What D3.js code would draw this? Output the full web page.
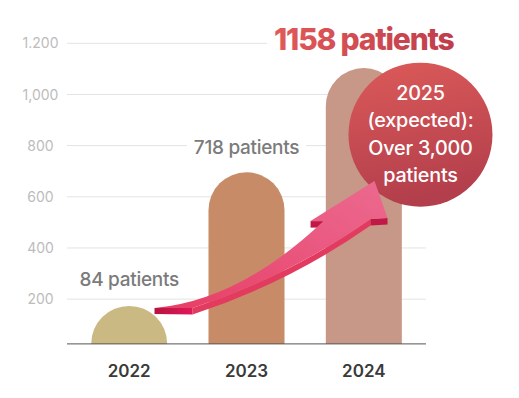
<!DOCTYPE html>
<html>
<head>
<meta charset="utf-8">
<script src="https://cdn.jsdelivr.net/npm/d3@7"></script>
<style>
  body { margin: 0; background: #fff; }
  svg { display: block; font-family: Inter, "Noto Sans", sans-serif; }
</style>
</head>
<body>
<div id="chart"></div>
<script>
// data
const years = ["2022", "2023", "2024"];
const barValues = [169, 696, 1103];          // bar heights on the axis
const barLabels = ["84 patients", "718 patients", "1158 patients"];
const barColors = ["#cbb984", "#c78c67", "#c79787"];
const tickValues = [200, 400, 600, 800, 1000, 1200];
const tickLabels = ["200", "400", "600", "800", "1,000", "1.200"];
const baseValue = 25;
const calloutLines = ["2025", "(expected):", "Over 3,000", "patients"];

// arrow outline in (category index, value) space
const arrowUpper = [[0.216, 165], [0.949, 197], [1.657, 505]];
const arrowHead = [[1.546, 505], [2.091, 662], [2.202, 517], [2.057, 513]];
const arrowLower = [[2.057, 513], [1.366, 290], [0.540, 165]];
const calloutCenter = [2.483, 843];

const W = 519, H = 398;

const svg = d3
  .select("#chart")
  .append("svg")
  .attr("width", W)
  .attr("height", H);

const x = d3.scaleBand().domain(years).range([67, 426]).paddingInner(0.352).paddingOuter(0.206);
const y = d3.scaleLinear().domain([0, 1200]).range([350.3, 43.3]);
const xi = d3
  .scaleLinear()
  .domain([0, 2])
  .range([x(years[0]) + x.bandwidth() / 2, x(years[2]) + x.bandwidth() / 2]);

const defs = svg.append("defs");

const gTitle = defs.append("linearGradient").attr("id", "gTitle").attr("x1", 0).attr("x2", 1).attr("y1", 0).attr("y2", 0);
gTitle.append("stop").attr("offset", 0).attr("stop-color", "#e15a59");
gTitle.append("stop").attr("offset", 1).attr("stop-color", "#bf3d4b");

const gCircle = defs.append("linearGradient").attr("id", "gCircle").attr("x1", 0).attr("x2", 0.2).attr("y1", 0).attr("y2", 1);
gCircle.append("stop").attr("offset", 0).attr("stop-color", "#dc5a59");
gCircle.append("stop").attr("offset", 1).attr("stop-color", "#b33f4c");

const gTop = defs.append("linearGradient").attr("id", "gTop").attr("x1", 0).attr("x2", 1).attr("y1", 1).attr("y2", 0);
gTop.append("stop").attr("offset", 0).attr("stop-color", "#e73d63");
gTop.append("stop").attr("offset", 0.6).attr("stop-color", "#ea5981");
gTop.append("stop").attr("offset", 1).attr("stop-color", "#ec6a8e");

const gCap = defs.append("linearGradient").attr("id", "gCap").attr("x1", 0).attr("x2", 1);
gCap.append("stop").attr("offset", 0).attr("stop-color", "#b8123f");
gCap.append("stop").attr("offset", 1).attr("stop-color", "#e0195a");

// gridlines
svg
  .append("g")
  .selectAll("line")
  .data(tickValues)
  .join("line")
  .attr("x1", x.range()[0])
  .attr("x2", x.range()[1])
  .attr("y1", (d) => y(d))
  .attr("y2", (d) => y(d))
  .attr("stroke", "#e3e3e3")
  .attr("stroke-width", 1);

// y tick labels
svg
  .append("g")
  .selectAll("text")
  .data(tickValues)
  .join("text")
  .attr("x", 40.5)
  .attr("y", (d) => y(d))
  .attr("dy", "0.36em")
  .attr("text-anchor", "middle")
  .attr("font-size", 14)
  .attr("fill", "#bcbcbc")
  .text((d, i) => tickLabels[i]);

// bars with round tops
const yBase = y(baseValue);
function barPath(i) {
  const x0 = x(years[i]), w = x.bandwidth(), r = w / 2;
  const top = Math.min(y(barValues[i]), yBase - r);
  return `M${x0},${yBase}V${top + r}A${r},${r} 0 0 1 ${x0 + w},${top + r}V${yBase}Z`;
}
svg
  .append("g")
  .selectAll("path")
  .data(years)
  .join("path")
  .attr("d", (d, i) => barPath(i))
  .attr("fill", (d, i) => barColors[i]);

// baseline
svg
  .append("line")
  .attr("x1", x.range()[0])
  .attr("x2", x.range()[1])
  .attr("y1", yBase)
  .attr("y2", yBase)
  .attr("stroke", "#555")
  .attr("stroke-width", 1);

// value labels with white backing
const labels = svg.append("g");
years.forEach((yr, i) => {
  const cx = x(yr) + x.bandwidth() / 2;
  const big = i === 2;
  const t = labels
    .append("text")
    .attr("x", cx)
    .attr("y", y(barValues[i]) - (big ? 18 : i === 0 ? 21.5 : 18))
    .attr("text-anchor", "middle")
    .attr("font-size", big ? 30 : 19)
    .attr("font-weight", big ? 800 : 500)
    .attr("letter-spacing", big ? -1.2 : -0.3)
    .attr("fill", big ? "url(#gTitle)" : "#7b7b7b")
    .text(barLabels[i]);
  const bb = t.node().getBBox();
  labels
    .insert("rect", "text")
    .attr("x", bb.x - 7)
    .attr("y", bb.y)
    .attr("width", bb.width + 14)
    .attr("height", bb.height)
    .attr("fill", "#fff");
});

// x axis labels
svg
  .append("g")
  .selectAll("text")
  .data(years)
  .join("text")
  .attr("x", (d) => x(d) + x.bandwidth() / 2)
  .attr("y", 377.3)
  .attr("text-anchor", "middle")
  .attr("font-size", 17)
  .attr("font-weight", 600)
  .attr("fill", "#3a3a3a")
  .text((d) => d);

// callout circle
const ccx = xi(calloutCenter[0]), ccy = y(calloutCenter[1]);
svg.append("circle").attr("cx", ccx).attr("cy", ccy).attr("r", 72).attr("fill", "url(#gCircle)");
svg
  .append("g")
  .selectAll("text")
  .data(calloutLines)
  .join("text")
  .attr("x", ccx)
  .attr("y", (d, i) => ccy - 34.7 + i * 27.3)
  .attr("text-anchor", "middle")
  .attr("font-size", 19.8)
  .attr("font-weight", 500)
  .attr("letter-spacing", -0.2)
  .attr("fill", "#fff")
  .text((d) => d);

// curved 3D arrow
const P = (p) => [xi(p[0]), y(p[1])];
const depth = 6.5;
const u = arrowUpper.map(P), h = arrowHead.map(P), l = arrowLower.map(P);
const arrow = svg.append("g");

// side face below the lower edge
arrow
  .append("path")
  .attr(
    "d",
    `M${l[2][0]},${l[2][1]}Q${l[1][0]},${l[1][1]} ${l[0][0]},${l[0][1]}` +
      `L${l[0][0]},${l[0][1] + depth}Q${l[1][0]},${l[1][1] + depth} ${l[2][0]},${l[2][1] + depth}Z`
  )
  .attr("fill", "#e33a5f");

// tail end cap
arrow
  .append("path")
  .attr("d", `M${u[0][0]},${u[0][1]}L${l[2][0]},${l[2][1]}L${l[2][0]},${l[2][1] + depth}L${u[0][0]},${u[0][1] + depth - 0.5}Z`)
  .attr("fill", "url(#gCap)");

// barb caps
arrow
  .append("path")
  .attr("d", `M${h[0][0]},${h[0][1]}L${u[2][0]},${u[2][1]}L${u[2][0]},${u[2][1] + depth}L${h[0][0]},${h[0][1] + depth}Z`)
  .attr("fill", "#c01847");
arrow
  .append("path")
  .attr("d", `M${h[3][0]},${h[3][1]}L${h[2][0]},${h[2][1]}L${h[2][0]},${h[2][1] + depth}L${h[3][0]},${h[3][1] + depth}Z`)
  .attr("fill", "#c01847");

// top face
arrow
  .append("path")
  .attr(
    "d",
    `M${u[0][0]},${u[0][1]}Q${u[1][0]},${u[1][1]} ${u[2][0]},${u[2][1]}` +
      `L${h[0][0]},${h[0][1]}L${h[1][0]},${h[1][1]}L${h[2][0]},${h[2][1]}L${h[3][0]},${h[3][1]}` +
      `Q${l[1][0]},${l[1][1]} ${l[2][0]},${l[2][1]}Z`
  )
  .attr("fill", "url(#gTop)");
</script>
</body>
</html>
